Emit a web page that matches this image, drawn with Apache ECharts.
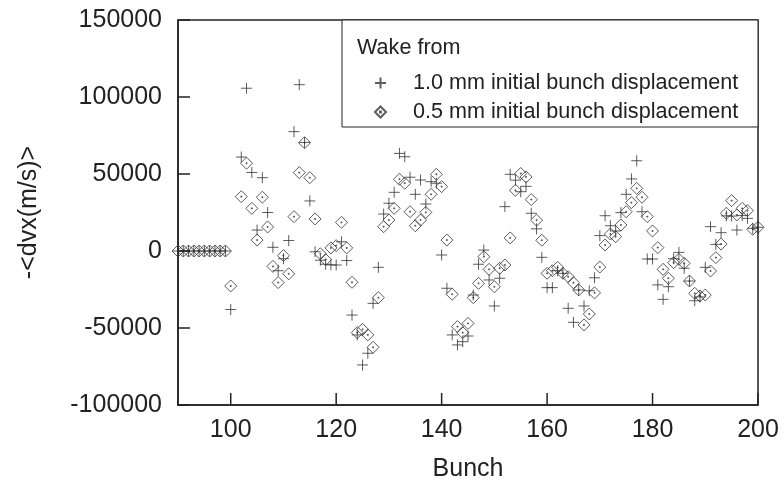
<!DOCTYPE html>
<html>
<head>
<meta charset="utf-8">
<title>Wake kick per bunch</title>
<script src="https://cdn.jsdelivr.net/npm/echarts@6/dist/echarts.min.js"></script>
<style>
  html, body { margin: 0; padding: 0; background: #fff; }
  #chart { width: 784px; height: 487px; }
</style>
</head>
<body>
<div id="chart"></div>
<script>
// Bunch numbers (bunch 101 has no recorded value)
const bunches = [
  90, 91, 92, 93, 94, 95, 96, 97, 98, 99,
  100, 102, 103, 104, 105, 106, 107, 108, 109, 110,
  111, 112, 113, 114, 115, 116, 117, 118, 119, 120,
  121, 122, 123, 124, 125, 126, 127, 128, 129, 130,
  131, 132, 133, 134, 135, 136, 137, 138, 139, 140,
  141, 142, 143, 144, 145, 146, 147, 148, 149, 150,
  151, 152, 153, 154, 155, 156, 157, 158, 159, 160,
  161, 162, 163, 164, 165, 166, 167, 168, 169, 170,
  171, 172, 173, 174, 175, 176, 177, 178, 179, 180,
  181, 182, 183, 184, 185, 186, 187, 188, 189, 190,
  191, 192, 193, 194, 195, 196, 197, 198, 199, 200
];

// -<dvx> (m/s), wake from 1.0 mm initial bunch displacement
const wake10mm = [
  0, 0, 0, 0, 0, 0, 0, 0, 0, 0,
  -38000, 61000, 105700, 51000, 13600, 47600, 25000, 2400, -12800, -5000,
  6800, 77500, 108000, 70500, 32500, -500, -6000, -8600, -9000, -9100,
  6000, -6200, -41600, -54500, -74000, -66400, -34000, -10600, 24000, 31000,
  38100, 63400, 61200, 47900, 36800, 46100, 30500, 45000, 44000, -2600,
  -24200, -54500, -61000, -58900, -55200, -28600, -8600, 600, -18800, -35700,
  -17700, 28800, 49800, 46000, 38500, 42000, 24500, 14400, -4100, -23800,
  -23800, -12800, -14500, -37200, -46300, -25300, -35700, -25800, -17400, 10000,
  22900, 16400, 13000, 24900, 36800, 46800, 58600, 25500, -5200, -5200,
  -22000, -31400, -23200, -5000, -900, -11200, -19500, -32300, -29800, -10600,
  15800, 4300, 11900, 22800, 22700, 13600, 23000, 21200, 14700, 15400
];

// -<dvx> (m/s), wake from 0.5 mm initial bunch displacement
const wake05mm = [
  0, 0, 0, 0, 0, 0, 0, 0, 0, 0,
  -22700, 35300, 57000, 27700, 7100, 34900, 15600, -10000, -20500, -3000,
  -14800, 22300, 50900, 70300, 47600, 20800, -1800, -5600, 2000, 3500,
  18600, 2000, -20300, -53000, -50900, -54500, -62500, -30300, 15800, 20100,
  27700, 46600, 44000, 25500, 16400, 20100, 25100, 36800, 49800, 41800,
  7100, -28100, -49100, -53000, -47000, -30300, -21000, -3700, -11900, -23200,
  -11200, -9100, 8500, 39400, 50300, 48100, 33400, 20000, 7000, -14500,
  -12800, -10600, -14500, -16700, -20600, -25300, -48000, -40900, -27200, -10400,
  3900, 11000, 9300, 16900, 25500, 31400, 40700, 34900, 22300, 13000,
  2200, -11900, -17700, -7600, -5400, -8000, -19500, -27500, -29200, -28600,
  -13000, -4300, 4500, 24500, 32700, 23400, 27700, 26200, 14100, 15400
];

const X_MIN = 90, X_MAX = 200;
const Y_MIN = -100000, Y_MAX = 150000, Y_STEP = 50000;
const xTicks = [100, 120, 140, 160, 180, 200];
const yTicks = [-100000, -50000, 0, 50000, 100000, 150000];
const seriesNames = [
  '1.0 mm initial bunch displacement',
  '0.5 mm initial bunch displacement'
];

const FONT = '"Liberation Sans", Arial, Helvetica, sans-serif';
const INK = '#222';
const TICK_LEN = 12;

// Open plus sign and hollow diamond with a centre dot, stroked only
const PLUS = 'path://M0,5 L10,5 M5,0 L5,10';
const DIAMOND = 'path://M5,0 L10,5 L5,10 L0,5 Z M4.6,4.6 L5.4,4.6 L5.4,5.4 L4.6,5.4 Z';

const pairs = (ys) => bunches.map((b, i) => [b, ys[i]]);

// Legend frame and heading
const legendFrame = [
  {
    type: 'rect', z: 50,
    shape: { x: 342, y: 20, width: 416, height: 107 },
    style: { fill: '#fff', stroke: INK, lineWidth: 1 }
  },
  {
    type: 'text', z: 51, left: 357, top: 37,
    style: { text: 'Wake from', font: '21.6px ' + FONT, fill: INK }
  }
];

const chart = echarts.init(document.getElementById('chart'), null, { renderer: 'canvas' });

chart.setOption({
  backgroundColor: '#fff',
  animation: false,
  textStyle: { fontFamily: FONT, color: INK },
  grid: {
    left: 178, right: 26, top: 20, bottom: 82,
    show: true, borderColor: INK, borderWidth: 1.5
  },
  graphic: legendFrame,
  legend: {
    orient: 'vertical',
    left: 374, top: 72,
    z: 52,
    padding: 0,
    itemWidth: 11, itemHeight: 11,
    itemGap: 7,
    selectedMode: false,
    data: seriesNames,
    textStyle: { fontFamily: FONT, fontSize: 21.6, color: INK, padding: [0, 0, 0, 22] }
  },
  xAxis: {
    type: 'value',
    min: X_MIN, max: X_MAX,
    name: 'Bunch',
    nameLocation: 'middle',
    nameGap: 52,
    nameTextStyle: { fontFamily: FONT, fontSize: 25, color: INK },
    axisLine: { show: true, onZero: false, lineStyle: { color: INK, width: 1.5 } },
    axisTick: { show: false },
    axisLabel: { show: true, customValues: xTicks, margin: 13,
                 fontFamily: FONT, fontSize: 25, color: INK },
    splitLine: { show: false }
  },
  yAxis: {
    type: 'value',
    min: Y_MIN, max: Y_MAX, interval: Y_STEP,
    name: '-<dvx(m/s)>',
    nameLocation: 'middle',
    nameGap: 136,
    nameRotate: 90,
    nameTextStyle: { fontFamily: FONT, fontSize: 25, color: INK },
    axisLine: { show: true, onZero: false, lineStyle: { color: INK, width: 1.5 } },
    axisTick: { show: false },
    axisLabel: { margin: 16, fontFamily: FONT, fontSize: 25, color: INK,
                 formatter: (v) => String(v) },
    splitLine: { show: false }
  },
  series: [
    {
      name: seriesNames[0],
      type: 'scatter',
      symbol: PLUS,
      symbolSize: 11,
      itemStyle: { color: 'rgba(0,0,0,0)', borderColor: '#333', borderWidth: 1 },
      data: pairs(wake10mm)
    },
    {
      name: seriesNames[1],
      type: 'scatter',
      symbol: DIAMOND,
      symbolSize: 12,
      itemStyle: { color: 'rgba(0,0,0,0)', borderColor: '#333', borderWidth: 1 },
      data: pairs(wake05mm)
    }
  ]
});

// Inward tick marks on the left and bottom frame edges, positioned
// through the grid's own value-to-pixel mapping.
function tickLine(p, dx, dy) {
  return {
    type: 'line', zlevel: 1, z: 100, silent: true,
    shape: { x1: p[0], y1: p[1], x2: p[0] + dx, y2: p[1] + dy },
    style: { stroke: INK, lineWidth: 1.5 }
  };
}
const ticks = [];
yTicks.forEach((v) => {
  ticks.push(tickLine(chart.convertToPixel({ gridIndex: 0 }, [X_MIN, v]), TICK_LEN, 0));
});
xTicks.forEach((b) => {
  ticks.push(tickLine(chart.convertToPixel({ gridIndex: 0 }, [b, Y_MIN]), 0, -TICK_LEN));
});
chart.setOption({ graphic: legendFrame.concat(ticks) });
</script>
</body>
</html>
